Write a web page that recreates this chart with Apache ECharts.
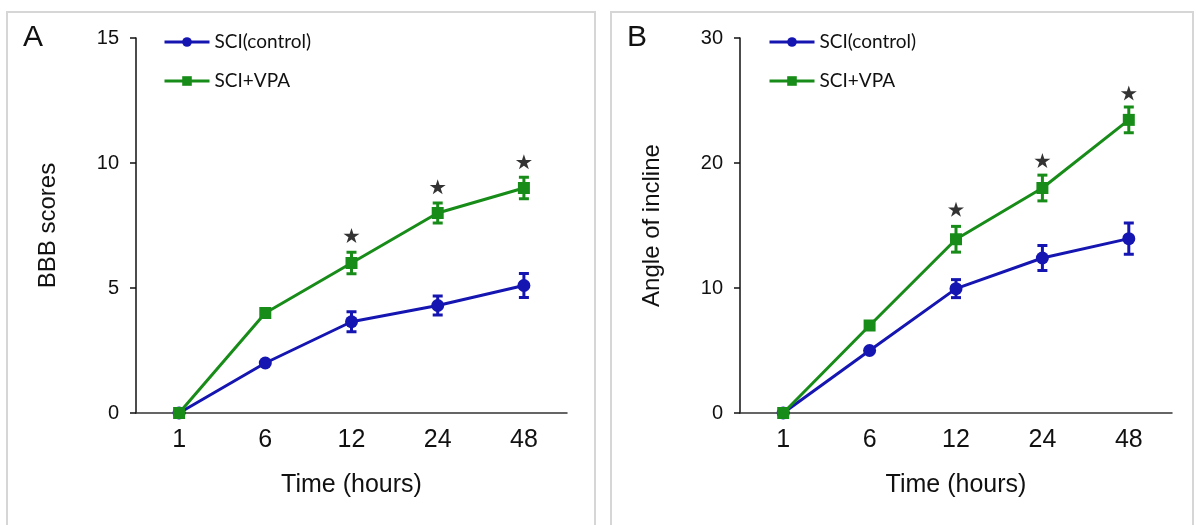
<!DOCTYPE html>
<html><head><meta charset="utf-8">
<script src="https://cdn.jsdelivr.net/npm/echarts@6/dist/echarts.min.js"></script>
<style>html,body{margin:0;padding:0;background:#fff}#c{width:1198px;height:525px}</style>
</head><body><div id="c"></div>
<script>
// ---- data ----
const categories = ['1', '6', '12', '24', '48'];
const seriesNames = ['SCI(control)', 'SCI+VPA'];
const panelLabels = ['A', 'B'];
const yAxisNames = ['BBB scores', 'Angle of incline'];
const xAxisName = 'Time (hours)';

const bbbControl    = [0, 2.0, 3.65, 4.3, 5.1];
const bbbControlErr = [0, 0, 0.40, 0.38, 0.48];
const bbbVPA        = [0, 4.0, 6.0, 8.0, 9.0];
const bbbVPAErr     = [0, 0, 0.43, 0.40, 0.43];
const bbbStars      = [null, null, 7.1, 9.05, 10.05];

const angleControl    = [0, 5.0, 9.95, 12.4, 13.95];
const angleControlErr = [0, 0, 0.72, 1.0, 1.25];
const angleVPA        = [0, 7.0, 13.9, 18.0, 23.45];
const angleVPAErr     = [0, 0, 1.03, 1.03, 1.03];
const angleStars      = [null, null, 16.3, 20.2, 25.6];

const yScaleA = [0, 15, 5];   // min, max, interval
const yScaleB = [0, 30, 10];

// ---- styling ----
const BLUE = '#1515b2';
const GREEN = '#188c18';
const FONT = '"Liberation Sans", Arial, sans-serif';
const LEGEND_FONT = 'Lato, "Open Sans", sans-serif';
const STAR = 'path://M50,0 L61.2,34.5 L97.6,34.5 L68.2,55.9 L79.4,90.5 L50,69.1 L20.6,90.5 L31.8,55.9 L2.4,34.5 L38.8,34.5 Z';

const grids = [
  {left: 136, top: 38, width: 431, height: 375},
  {left: 740, top: 38, width: 432, height: 375}
];

function xAxisFor(i) {
  return {
    type: 'category', gridIndex: i, data: categories, boundaryGap: true,
    axisLine: {lineStyle: {color: '#333', width: 1.5}},
    axisTick: {show: false},
    axisLabel: {fontSize: 25, color: '#111', margin: 15, fontFamily: FONT},
    name: xAxisName, nameLocation: 'middle', nameGap: 60,
    nameTextStyle: {fontSize: 25, color: '#111', fontFamily: FONT}
  };
}
function yAxisFor(i, sc) {
  return {
    type: 'value', gridIndex: i, min: sc[0], max: sc[1], interval: sc[2],
    splitLine: {show: false},
    axisLine: {show: true, lineStyle: {color: '#111', width: 1.5}},
    axisTick: {show: true, inside: false, length: 6, lineStyle: {color: '#111', width: 1.5}},
    axisLabel: {fontSize: 20, color: '#111', margin: 17, fontFamily: FONT},
    name: yAxisNames[i], nameLocation: 'middle', nameGap: 76, nameRotate: 90,
    nameTextStyle: {fontSize: 24, color: '#111', fontFamily: FONT}
  };
}
function lineSeries(i, name, vals, color, symbol, size) {
  return {
    type: 'line', name: name, xAxisIndex: i, yAxisIndex: i, data: vals,
    symbol: symbol, symbolSize: size, showSymbol: true,
    lineStyle: {color: color, width: 3}, itemStyle: {color: color},
    z: 3, animation: false
  };
}
function errSeries(i, vals, errs, color) {
  return {
    type: 'custom', xAxisIndex: i, yAxisIndex: i,
    data: vals.map((v, k) => [k, v - errs[k], v + errs[k]]).filter(d => d[2] > d[1]),
    encode: {x: 0, y: [1, 2]},
    renderItem: function (params, api) {
      const lo = api.coord([api.value(0), api.value(1)]);
      const hi = api.coord([api.value(0), api.value(2)]);
      const w = 5;
      const st = {stroke: color, lineWidth: 3};
      return {type: 'group', children: [
        {type: 'line', shape: {x1: lo[0], y1: lo[1], x2: hi[0], y2: hi[1]}, style: st},
        {type: 'line', shape: {x1: lo[0] - w, y1: lo[1], x2: lo[0] + w, y2: lo[1]}, style: st},
        {type: 'line', shape: {x1: hi[0] - w, y1: hi[1], x2: hi[0] + w, y2: hi[1]}, style: st}
      ]};
    },
    z: 2, animation: false, silent: true
  };
}
function starSeries(i, vals) {
  return {
    type: 'scatter', xAxisIndex: i, yAxisIndex: i,
    data: vals.map((v, k) => v == null ? null : [k, v]).filter(d => d),
    symbol: STAR, symbolSize: [16, 15], itemStyle: {color: '#000'},
    z: 4, animation: false, silent: true
  };
}
function legendFor(left) {
  return {
    data: seriesNames, orient: 'vertical', left: left, top: 27,
    itemWidth: 45, itemHeight: 12, itemGap: 19,
    lineStyle: {width: 3},
    textStyle: {fontSize: 19, color: '#111', fontFamily: LEGEND_FONT, lineHeight: 20}
  };
}

const chart = echarts.init(document.getElementById('c'), null, {renderer: 'canvas'});
chart.setOption({
  backgroundColor: '#fff',
  animation: false,
  grid: grids,
  xAxis: [xAxisFor(0), xAxisFor(1)],
  yAxis: [yAxisFor(0, yScaleA), yAxisFor(1, yScaleB)],
  legend: [legendFor(158), legendFor(763)],
  graphic: [
    {type: 'rect', shape: {x: 7, y: 12, width: 588, height: 540}, style: {fill: 'none', stroke: '#d6d6d6', lineWidth: 2}, silent: true},
    {type: 'rect', shape: {x: 611, y: 12, width: 582, height: 540}, style: {fill: 'none', stroke: '#d6d6d6', lineWidth: 2}, silent: true},
    {type: 'text', x: 23, y: 38, style: {text: panelLabels[0], font: '30px ' + FONT, fill: '#111', verticalAlign: 'middle'}},
    {type: 'text', x: 627, y: 38, style: {text: panelLabels[1], font: '30px ' + FONT, fill: '#111', verticalAlign: 'middle'}}
  ],
  series: [
    errSeries(0, bbbControl, bbbControlErr, BLUE),
    lineSeries(0, seriesNames[0], bbbControl, BLUE, 'circle', 13),
    errSeries(0, bbbVPA, bbbVPAErr, GREEN),
    lineSeries(0, seriesNames[1], bbbVPA, GREEN, 'rect', 12),
    starSeries(0, bbbStars),
    errSeries(1, angleControl, angleControlErr, BLUE),
    lineSeries(1, seriesNames[0], angleControl, BLUE, 'circle', 13),
    errSeries(1, angleVPA, angleVPAErr, GREEN),
    lineSeries(1, seriesNames[1], angleVPA, GREEN, 'rect', 12),
    starSeries(1, angleStars)
  ]
});
</script></body></html>
